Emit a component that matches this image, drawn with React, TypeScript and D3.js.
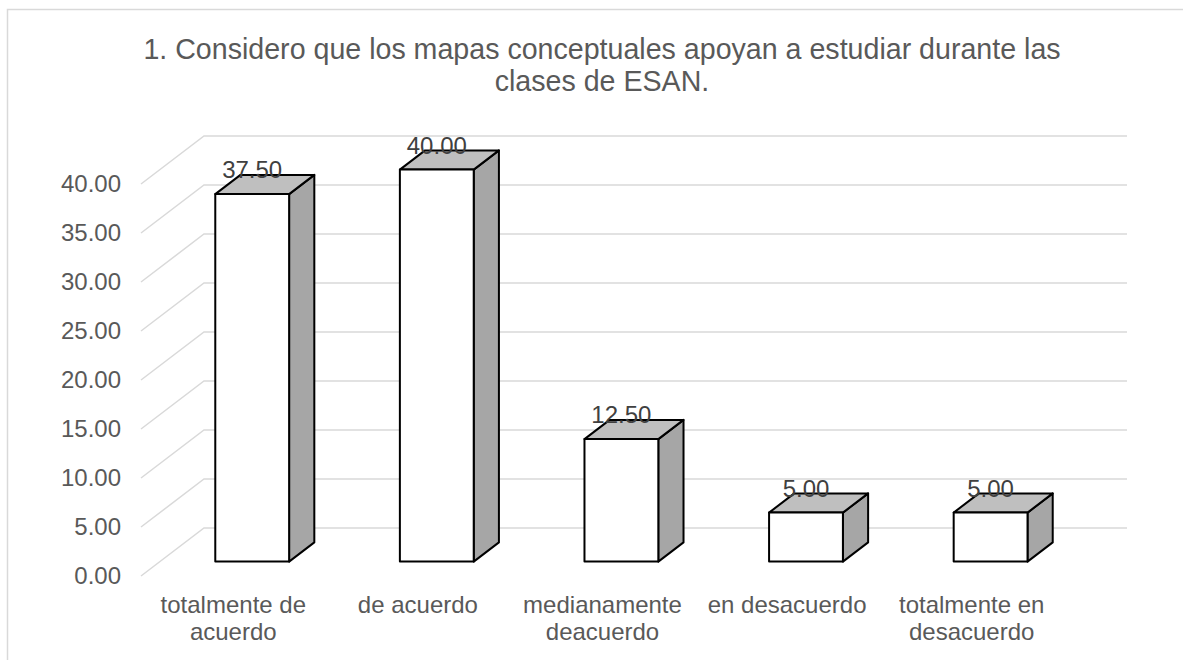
import React from "react";
import * as d3 from "d3";

const titleLines = [
  "1. Considero que los mapas conceptuales apoyan a estudiar durante las",
  "clases de ESAN.",
];
const categories = [
  "totalmente de acuerdo",
  "de acuerdo",
  "medianamente deacuerdo",
  "en desacuerdo",
  "totalmente en desacuerdo",
];
const categoryLines = [
  ["totalmente de", "acuerdo"],
  ["de acuerdo"],
  ["medianamente", "deacuerdo"],
  ["en desacuerdo"],
  ["totalmente en", "desacuerdo"],
];
const values = [37.5, 40.0, 12.5, 5.0, 5.0];
const yTicks = [0, 5, 10, 15, 20, 25, 30, 35, 40];

const W = 1183;
const H = 660;
const FONT = "'Liberation Sans', Arial, sans-serif";

export default function App() {
  const frontLeft = 141;
  const frontRight = 1064;
  const depthX = 63;
  const depthY = -48;
  const x = d3
    .scaleBand<string>()
    .domain(categories)
    .range([frontLeft, frontRight])
    .paddingInner(0.6)
    .paddingOuter(0.3);
  const xCat = d3.scaleBand<string>().domain(categories).range([frontLeft, frontRight]);
  const y = d3.scaleLinear().domain([0, 40]).range([576, 184]);

  const tFront = 0.3;
  const tBack = 0.7;
  const fdx = depthX * tFront;
  const fdy = depthY * tFront;
  const bdx = depthX * tBack;
  const bdy = depthY * tBack;

  return (
    <svg
      width={W}
      height={H}
      style={{ position: "absolute", left: 0, top: 0, background: "#fff" }}
      fontFamily={FONT}
    >
      <rect x={0} y={0} width={W} height={H} fill="#fff" />
      <rect x={7.5} y={9.5} width={W + 20} height={H + 20} fill="none" stroke="#d9d9d9" strokeWidth={1.5} />
      {titleLines.map((t, i) => (
        <text key={i} x={602} y={59 + i * 32} textAnchor="middle" fontSize={28.6} fill="#595959">
          {t}
        </text>
      ))}
      {/* wall gridlines */}
      {yTicks.map((v) => {
        const yy = y(v);
        const p = d3.path();
        p.moveTo(frontLeft, yy);
        p.lineTo(frontLeft + depthX, yy + depthY);
        p.lineTo(frontRight + depthX, yy + depthY);
        return <path key={v} d={p.toString()} fill="none" stroke="#d9d9d9" strokeWidth={1.5} />;
      })}
      {/* y tick labels */}
      {yTicks.map((v) => (
        <text key={v} x={121} y={y(v)} dy="0.35em" textAnchor="end" fontSize={24} fill="#595959">
          {d3.format(".2f")(v)}
        </text>
      ))}
      {/* bars */}
      {categories.map((c, i) => {
        const v = values[i];
        const x0 = (x(c) as number) + fdx;
        const x1 = x0 + x.bandwidth();
        const yb = y(0) + fdy;
        const yt = y(v) + fdy;
        const ddx = bdx - fdx;
        const ddy = bdy - fdy;
        const side = `M${x1},${yt}L${x1 + ddx},${yt + ddy}L${x1 + ddx},${yb + ddy}L${x1},${yb}Z`;
        const top = `M${x0},${yt}L${x0 + ddx},${yt + ddy}L${x1 + ddx},${yt + ddy}L${x1},${yt}Z`;
        return (
          <g key={c} stroke="#000" strokeWidth={2} strokeLinejoin="round">
            <path d={side} fill="#a6a6a6" />
            <path d={top} fill="#bfbfbf" />
            <rect x={x0} y={yt} width={x1 - x0} height={yb - yt} fill="#fff" />
            <text
              x={(x0 + x1) / 2}
              y={yt - 16}
              textAnchor="middle"
              fontSize={24}
              fill="#404040"
              stroke="none"
            >
              {d3.format(".2f")(v)}
            </text>
          </g>
        );
      })}
      {/* category labels */}
      {categories.map((c, i) => {
        const cx = (xCat(c) as number) + xCat.bandwidth() / 2;
        return (
          <text key={c} x={cx} y={613} textAnchor="middle" fontSize={24} fill="#595959">
            {categoryLines[i].map((l, j) => (
              <tspan key={j} x={cx} y={613 + j * 27}>
                {l}
              </tspan>
            ))}
          </text>
        );
      })}
    </svg>
  );
}
